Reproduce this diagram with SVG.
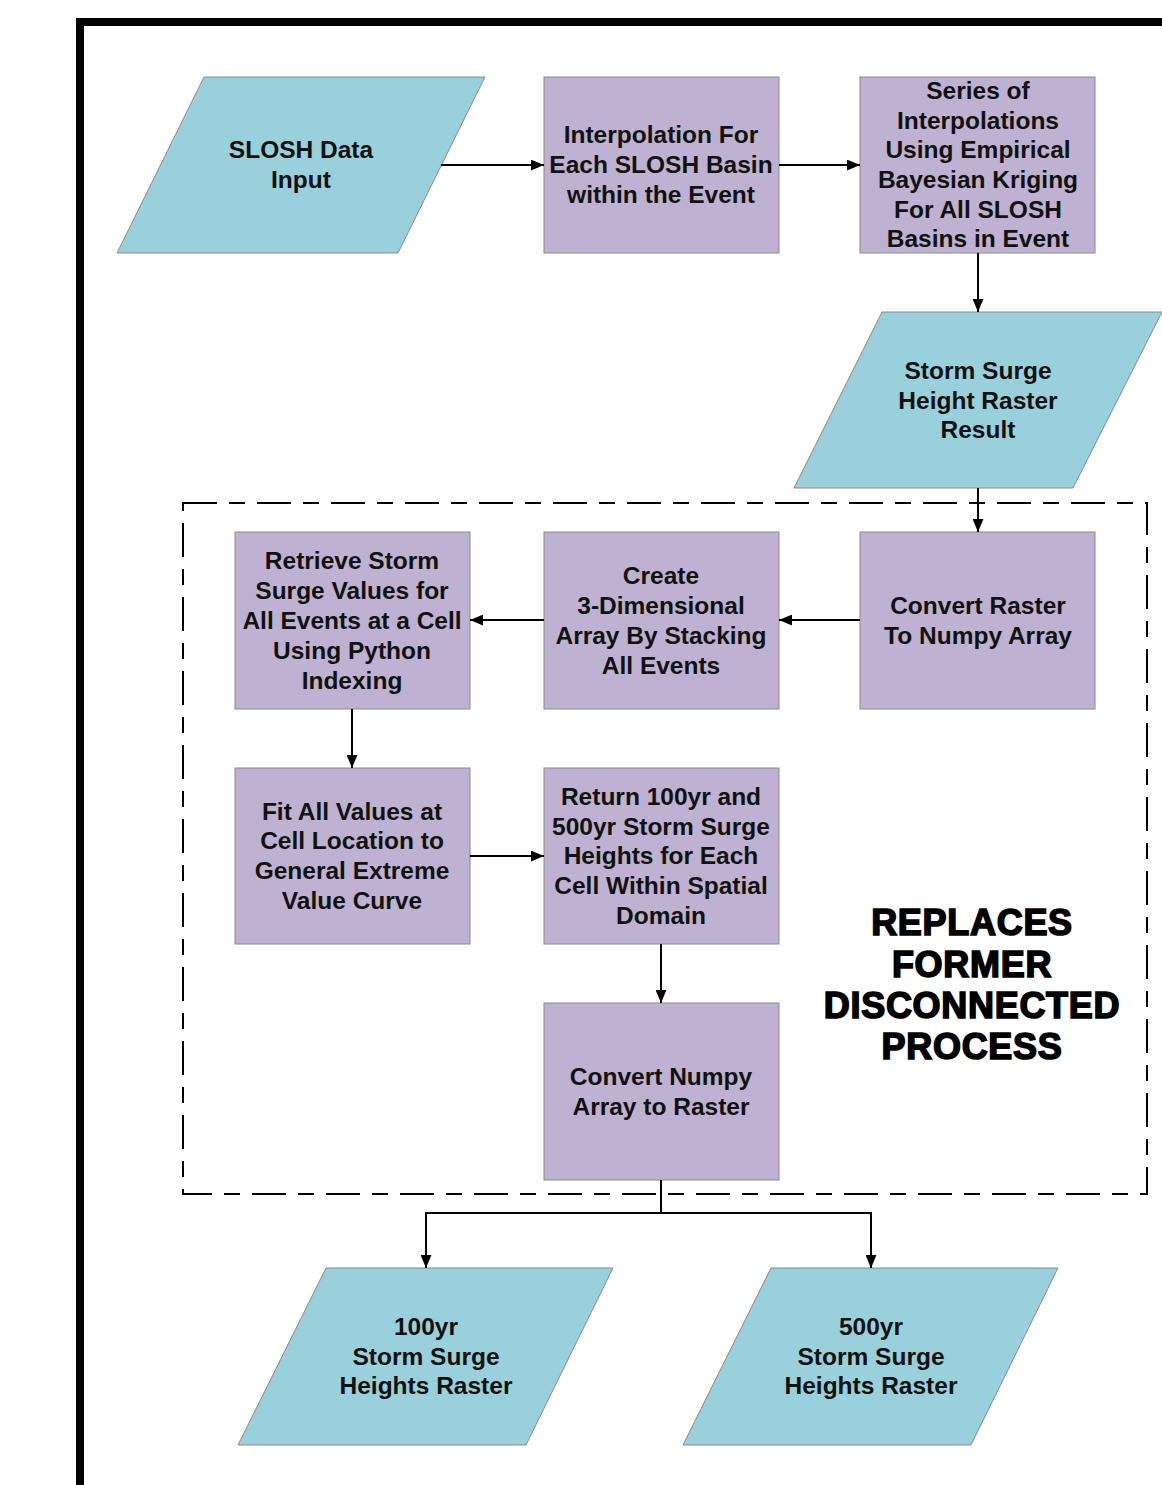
<svg xmlns="http://www.w3.org/2000/svg" width="1162" height="1485" viewBox="0 0 1162 1485">
<defs>
<style>
.io{fill:#99D0DC;stroke:#8a8a8a;stroke-width:1}
.pr{fill:#BFB1D1;stroke:#8a8a8a;stroke-width:1}
.t{font-family:"Liberation Sans",Arial,sans-serif;font-weight:bold;font-size:24.5px;fill:#111;text-anchor:middle}
.big{font-family:"Liberation Sans",Arial,sans-serif;font-weight:bold;font-size:36px;fill:#000;stroke:#000;stroke-width:1.6;letter-spacing:0.7px;text-anchor:middle}
.c{fill:none;stroke:#000;stroke-width:2}
</style>
<marker id="ah" viewBox="0 0 12 10" refX="12" refY="5" markerWidth="13" markerHeight="11" markerUnits="userSpaceOnUse" orient="auto">
<path d="M0,0 L12,5 L0,10 Z" fill="#000"/>
</marker>
</defs>
<rect width="1162" height="1485" fill="#fff"/>
<path d="M80,1485 V22 H1162" fill="none" stroke="#000" stroke-width="8"/>
<rect x="183" y="503" width="964" height="691" fill="none" stroke="#000" stroke-width="2" stroke-dasharray="34 12 16 12"/>

<g id="n1"><polygon class="io" points="204,77 485,77 398,253 117,253"/><text class="t" x="301" y="158">SLOSH Data</text><text class="t" x="301" y="188">Input</text></g>
<g id="n2"><rect class="pr" x="544" y="77" width="235" height="176"/><text class="t" x="661" y="143">Interpolation For</text><text class="t" x="661" y="173">Each SLOSH Basin</text><text class="t" x="661" y="203">within the Event</text></g>
<g id="n3"><rect class="pr" x="860" y="77" width="235" height="176"/><text class="t" x="978" y="99">Series of</text><text class="t" x="978" y="129">Interpolations</text><text class="t" x="978" y="158">Using Empirical</text><text class="t" x="978" y="188">Bayesian Kriging</text><text class="t" x="978" y="218">For All SLOSH</text><text class="t" x="978" y="247">Basins in Event</text></g>
<g id="n4"><polygon class="io" points="882,312 1162,312 1073,488 794,488"/><text class="t" x="978" y="379">Storm Surge</text><text class="t" x="978" y="409">Height Raster</text><text class="t" x="978" y="438">Result</text></g>
<g id="n5"><rect class="pr" x="860" y="532" width="235" height="177"/><text class="t" x="978" y="614">Convert Raster</text><text class="t" x="978" y="644">To Numpy Array</text></g>
<g id="n6"><rect class="pr" x="544" y="532" width="235" height="177"/><text class="t" x="661" y="584">Create</text><text class="t" x="661" y="614">3-Dimensional</text><text class="t" x="661" y="644">Array By Stacking</text><text class="t" x="661" y="674">All Events</text></g>
<g id="n7"><rect class="pr" x="235" y="532" width="235" height="177"/><text class="t" x="352" y="569">Retrieve Storm</text><text class="t" x="352" y="599">Surge Values for</text><text class="t" x="352" y="629">All Events at a Cell</text><text class="t" x="352" y="659">Using Python</text><text class="t" x="352" y="689">Indexing</text></g>
<g id="n8"><rect class="pr" x="235" y="768" width="235" height="176"/><text class="t" x="352" y="820">Fit All Values at</text><text class="t" x="352" y="849">Cell Location to</text><text class="t" x="352" y="879">General Extreme</text><text class="t" x="352" y="909">Value Curve</text></g>
<g id="n9"><rect class="pr" x="544" y="768" width="235" height="176"/><text class="t" x="661" y="805">Return 100yr and</text><text class="t" x="661" y="835">500yr Storm Surge</text><text class="t" x="661" y="864">Heights for Each</text><text class="t" x="661" y="894">Cell Within Spatial</text><text class="t" x="661" y="924">Domain</text></g>
<g id="n10"><rect class="pr" x="544" y="1003" width="235" height="177"/><text class="t" x="661" y="1085">Convert Numpy</text><text class="t" x="661" y="1115">Array to Raster</text></g>
<g id="n11"><polygon class="io" points="326,1268 613,1268 526,1445 238,1445"/><text class="t" x="426" y="1335">100yr</text><text class="t" x="426" y="1365">Storm Surge</text><text class="t" x="426" y="1394">Heights Raster</text></g>
<g id="n12"><polygon class="io" points="771,1268 1058,1268 971,1445 683,1445"/><text class="t" x="871" y="1335">500yr</text><text class="t" x="871" y="1365">Storm Surge</text><text class="t" x="871" y="1394">Heights Raster</text></g>
<g id="label"><text class="big" x="972" y="935">REPLACES</text><text class="big" x="972" y="977">FORMER</text><text class="big" x="972" y="1018">DISCONNECTED</text><text class="big" x="972" y="1059">PROCESS</text></g>

<g id="connectors">
<path class="c" d="M441,165 H544" marker-end="url(#ah)"/>
<path class="c" d="M779,165 H860" marker-end="url(#ah)"/>
<path class="c" d="M978,253 V312" marker-end="url(#ah)"/>
<path class="c" d="M978,488 V532" marker-end="url(#ah)"/>
<path class="c" d="M860,620 H779" marker-end="url(#ah)"/>
<path class="c" d="M544,620 H470" marker-end="url(#ah)"/>
<path class="c" d="M352,709 V768" marker-end="url(#ah)"/>
<path class="c" d="M470,856 H544" marker-end="url(#ah)"/>
<path class="c" d="M661,944 V1003" marker-end="url(#ah)"/>
<path class="c" d="M661,1180 V1213 H426 V1268" marker-end="url(#ah)"/>
<path class="c" d="M661,1213 H871 V1268" marker-end="url(#ah)"/>
</g>
</svg>
